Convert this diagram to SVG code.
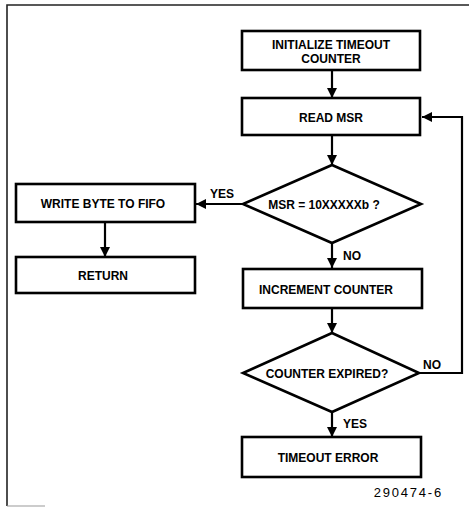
<svg xmlns="http://www.w3.org/2000/svg" width="469" height="507" viewBox="0 0 469 507">
<defs>
<style>
.box{fill:#fff;stroke:#000;stroke-width:2.6}
.dia{fill:#fff;stroke:#000;stroke-width:2.6;stroke-linejoin:miter}
.t{font-family:"Liberation Sans",Arial,sans-serif;font-weight:bold;font-size:12px;text-anchor:middle;fill:#000}
.lbl{font-family:"Liberation Sans",Arial,sans-serif;font-weight:bold;font-size:12px;fill:#000}
.c{fill:none;stroke:#000;stroke-width:2.2}
.frame{fill:none;stroke:#222;stroke-width:1.6}
</style>
<marker id="ah" markerUnits="userSpaceOnUse" markerWidth="10" markerHeight="10" refX="10" refY="5" orient="auto" viewBox="0 0 10 10">
<path d="M0,0 L10,5 L0,10 z" fill="#000"/>
</marker>
</defs>
<rect width="469" height="507" fill="#fff"/>
<path class="frame" d="M7,506 V5 H469"/>
<path d="M7,506 H45" fill="none" stroke="#999" stroke-width="1.2"/>

<g id="connectors">
<path class="c" d="M332,70 V98" marker-end="url(#ah)"/>
<path class="c" d="M332,135 V165" marker-end="url(#ah)"/>
<path class="c" d="M243,204 H196" marker-end="url(#ah)"/>
<path class="c" d="M105,222 V257" marker-end="url(#ah)"/>
<path class="c" d="M332,243 V268" marker-end="url(#ah)"/>
<path class="c" d="M332,308 V333" marker-end="url(#ah)"/>
<path class="c" d="M420,373 H462 V117 H422" marker-end="url(#ah)"/>
<path class="c" d="M332,412 V437" marker-end="url(#ah)"/>
<text class="lbl" x="210" y="198">YES</text>
<text class="lbl" x="343" y="260">NO</text>
<text class="lbl" x="423" y="369">NO</text>
<text class="lbl" x="343" y="428">YES</text>
</g>

<g id="init">
<rect class="box" x="242" y="31" width="178" height="39"/>
<text class="t" x="331" y="49">INITIALIZE TIMEOUT</text>
<text class="t" x="331" y="63">COUNTER</text>
</g>
<g id="readmsr">
<rect class="box" x="242" y="98" width="178" height="37"/>
<text class="t" x="331" y="121.5">READ MSR</text>
</g>
<g id="msrcheck">
<polygon class="dia" points="332,165 421,204 332,243 243,204"/>
<text class="t" x="324" y="208.5">MSR = 10XXXXXb ?</text>
</g>
<g id="writebyte">
<rect class="box" x="16" y="184" width="179" height="38"/>
<text class="t" x="103" y="207.5">WRITE BYTE TO FIFO</text>
</g>
<g id="return">
<rect class="box" x="16" y="257" width="179" height="36"/>
<text class="t" x="103" y="280">RETURN</text>
</g>
<g id="increment">
<rect class="box" x="243" y="269" width="179" height="39"/>
<text class="t" x="326" y="293.5">INCREMENT COUNTER</text>
</g>
<g id="expired">
<polygon class="dia" points="332,333 419,373 332,412 243,373"/>
<text class="t" x="327" y="377.5">COUNTER EXPIRED?</text>
</g>
<g id="timeout">
<rect class="box" x="242" y="437" width="179" height="40"/>
<text class="t" x="328" y="462">TIMEOUT ERROR</text>
</g>
<text x="443" y="497" font-family="'Liberation Sans',Arial,sans-serif" font-size="13" text-anchor="end" letter-spacing="1.8">290474-6</text>
</svg>
